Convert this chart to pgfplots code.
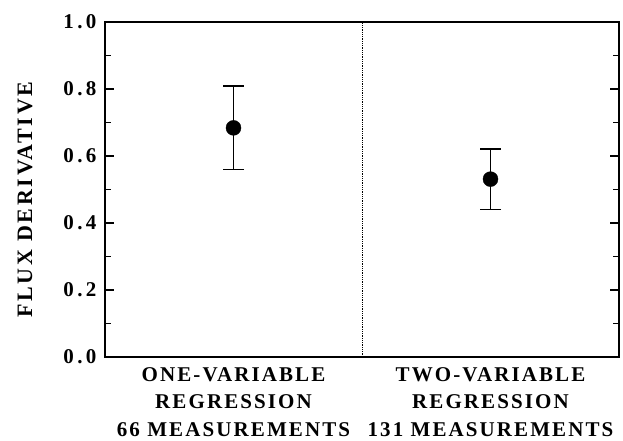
\documentclass[border=0pt]{standalone}
\usepackage{pgfplots}
\pgfplotsset{compat=1.18}
\usepackage{fontspec}
\setmainfont{Liberation Serif}
\newfontfamily\lblfont[LetterSpace=10]{Liberation Serif}
\newfontfamily\ylblfont[LetterSpace=12]{Liberation Serif}
\newfontfamily\tickfont[LetterSpace=16]{Liberation Serif}
\begin{document}
\begin{tikzpicture}
\begin{axis}[
  scale only axis,
  width=514pt, height=335pt,
  xmin=0, xmax=4, ymin=0, ymax=1,
  axis line style={line width=2pt},
  xtick={1,3},
  xticklabels={{ONE-VARIABLE\\REGRESSION\\66 MEASUREMENTS},{TWO-VARIABLE\\REGRESSION\\131 MEASUREMENTS}},
  x tick label style={align=center, font=\lblfont\bfseries\fontsize{21}{27.5}\selectfont, yshift=-7pt},
  major x tick style={draw=none},
  ytick={0,0.2,0.4,0.6,0.8,1.0},
  minor ytick={0.1,0.3,0.5,0.7,0.9},
  yticklabel style={/pgf/number format/fixed, /pgf/number format/fixed zerofill, /pgf/number format/precision=1, font=\tickfont\bfseries\fontsize{21}{24}\selectfont, xshift=-5pt},
  /pgf/number format/assume math mode=true,
  tick align=inside,
  ytick pos=both,
  yticklabel pos=left,
  major tick length=9pt,
  minor tick length=6pt,
  every tick/.style={black, line width=1.4pt},
  ylabel={FLUX DERIVATIVE},
  every axis y label/.style={at={(axis description cs:0,0.47)}, rotate=90, anchor=center, yshift=80pt,
    font=\ylblfont\bfseries\fontsize{22}{24}\selectfont},
  clip=false,
]
\addplot[black, densely dotted, line width=0.8pt] coordinates {(2,0) (2,1)};
\addplot[only marks, mark=*, mark size=7.5pt, black,
  error bars/.cd, y dir=both, y explicit,
  error mark options={rotate=90, mark size=10.5pt, line width=1.4pt},
  error bar style={line width=1.4pt}]
  coordinates {
    (1,0.684) +- (0,0.125)
    (3,0.531) +- (0,0.09)
  };
\end{axis}
\pgfresetboundingbox
\path (current axis.south west) ++(-105pt,-84pt) rectangle ++(623pt,441pt);
\end{tikzpicture}
\end{document}
